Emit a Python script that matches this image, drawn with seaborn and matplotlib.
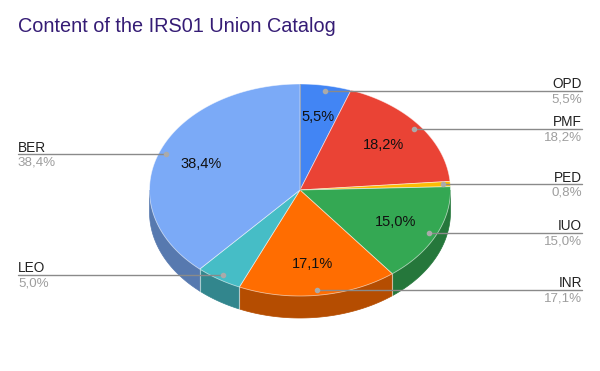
import numpy as np
import matplotlib
matplotlib.use("Agg")
import matplotlib.pyplot as plt
import seaborn as sns
from matplotlib.colors import to_rgb

categories = ["OPD", "PMF", "PED", "IUO", "INR", "LEO", "BER"]
shares = [5.5, 18.2, 0.8, 15.0, 17.1, 5.0, 38.4]
pct_labels = ["5,5%", "18,2%", "0,8%", "15,0%", "17,1%", "5,0%", "38,4%"]
colors = ["#4285F4", "#EA4335", "#FBBC04", "#34A853", "#FF6D01", "#46BDC6", "#7BAAF7"]
label_side = ["right", "right", "right", "right", "right", "left", "left"]
show_inside = [True, True, False, True, True, False, True]
title = "Content of the IRS01 Union Catalog"

sns.set_style("white")
plt.rcParams['font.family'] = ['Liberation Sans', 'DejaVu Sans']

fig = plt.figure(figsize=(6, 3.71), dpi=100)
ax = fig.add_axes([0, 0, 1, 1])
ax.set_xlim(0, 600)
ax.set_ylim(371, 0)
ax.axis('off')

cx, cy, rx, ry, depth = 300, 190, 150.5, 106, 22


def pt(theta_deg, f=1.0):
    t = np.radians(theta_deg)
    return cx + rx * f * np.sin(t), cy - ry * f * np.cos(t)


total = sum(shares)
bounds = np.concatenate([[0], np.cumsum(shares) / total * 360])

# side walls (front half only)
for i in range(len(shares)):
    a0, a1 = bounds[i], bounds[i + 1]
    lo, hi = max(a0, 90), min(a1, 270)
    if hi <= lo:
        continue
    th = np.linspace(lo, hi, 120)
    x, y = pt(th)
    xs = np.concatenate([x, x[::-1]])
    ys = np.concatenate([y, y[::-1] + depth])
    dark = tuple(c * 0.71 for c in to_rgb(colors[i]))
    ax.fill(xs, ys, color=dark, ec=dark, lw=0.5, zorder=1)
    for a in (lo, hi):
        if 90 < a < 270:
            px, py = pt(a)
            ax.plot([px, px], [py, py + depth], color=(1, 1, 1, 0.35), lw=0.8, zorder=1.5)

# top faces
for i in range(len(shares)):
    a0, a1 = bounds[i], bounds[i + 1]
    th = np.linspace(a0, a1, max(3, int((a1 - a0) * 2)))
    x, y = pt(th)
    ax.fill(np.r_[cx, x], np.r_[cy, y], color=colors[i], ec=(1, 1, 1, 0.55), lw=0.6, zorder=2)

# faint outline at the start of the first slice
sx, sy = pt(0)
ax.plot([cx, sx], [cy, sy], color=(0.6, 0.6, 0.6, 0.6), lw=0.8, zorder=2.5)

# inside labels
for i in range(len(shares)):
    if not show_inside[i]:
        continue
    mid = (bounds[i] + bounds[i + 1]) / 2
    x, y = pt(mid, 0.7)
    ax.text(x, y, pct_labels[i], ha='center', va='center', fontsize=10.5, color='#111111', zorder=4)

# outside leader labels
for i in range(len(shares)):
    mid = (bounds[i] + bounds[i + 1]) / 2
    x, y = pt(mid, 0.95)
    ax.plot([x], [y], 'o', ms=3, color='#aaaaaa', zorder=4)
    if label_side[i] == 'right':
        xe, ha = 582, 'right'
    else:
        xe, ha = 18, 'left'
    ax.plot([x, xe], [y, y], color='#8a8a8a', lw=1, zorder=3)
    ax.text(xe, y - 2.5, categories[i], ha=ha, va='baseline', fontsize=9.8, color='#222222', zorder=4)
    ax.text(xe, y + 2.5, pct_labels[i], ha=ha, va='top', fontsize=9.6, color='#9e9e9e', zorder=4)

ax.text(18, 27, title, ha='left', va='center', fontsize=14.3, color='#351c75')

fig.savefig("out.png", dpi=100)
